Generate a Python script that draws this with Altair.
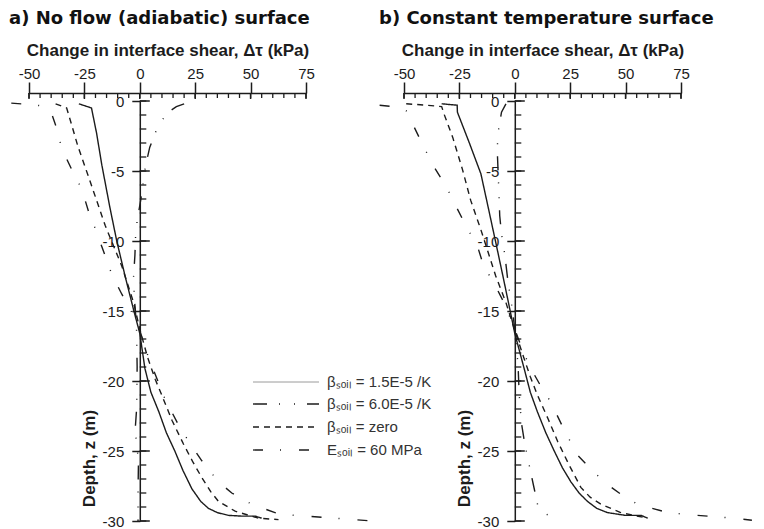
import altair as alt
import pandas as pd

# ---------------- data ----------------
SERIES = ["b15", "b60", "zero", "esoil"]
LEGEND_LABELS = ["βₛₒᵢₗ = 1.5E-5 /K", "βₛₒᵢₗ = 6.0E-5 /K", "βₛₒᵢₗ = zero", "Eₛₒᵢₗ = 60 MPa"]
PANEL_TITLES = ["a) No flow (adiabatic) surface", "b) Constant temperature surface"]
X_TITLE = "Change in interface shear, Δτ (kPa)"
Y_TITLE = "Depth, z (m)"
X_TICKS = [-50, -25, 0, 25, 50, 75]
X_MINOR = list(range(-50, 76, 5))
Y_TICKS = [0, -5, -10, -15, -20, -25, -30]
Y_MINOR = list(range(0, -31, -1))

# Panel a: no flow (adiabatic) surface
A_B15_X = [-27.5, -21.8, -19.5, -17.1, -13.5, -10.4, -6.5, -2.5, 0, 2.3, 5, 8.6, 12, 15.8, 19.5, 23.5, 27.5, 31, 35, 40, 46, 52, 55]
A_B15_Z = [-0.2, -0.5, -2.3, -4.6, -7.6, -10, -12.6, -15.1, -16.6, -19.1, -20.8, -22.2, -23.7, -25.0, -26.4, -27.7, -28.6, -29.1, -29.4, -29.6, -29.65, -29.65, -29.8]
A_B60_X = [20, 16.5, 12, 7.7, 4.5, 2.5, 0.5, -0.8, -1.8, -2.2, -2.8, -2.5, -1.5, -1.2, -1.4, -2.1, -0.6, -0.8, -0.8]
A_B60_Z = [-0.2, -0.4, -0.9, -2, -3.3, -4.7, -7, -8.2, -9.2, -11, -12.5, -14, -16, -19, -21.9, -23.5, -25.7, -28, -30]
A_ZERO_X = [-38, -33, -31.5, -28, -22.4, -15.6, -8.1, -2.8, 0, 3.5, 7, 9.9, 14.5, 19.7, 24, 28, 32, 35.5, 43, 53.6, 62.6]
A_ZERO_Z = [-0.2, -0.5, -1.3, -3.2, -5.75, -8.9, -11.8, -14.4, -16.3, -18.3, -19.9, -21, -22.8, -24.5, -25.8, -26.9, -27.9, -28.6, -29.3, -29.8, -29.9]
A_ES_X = [-58, -50, -44, -40, -37.6, -35.2, -30.7, -26.2, -23.2, -19.4, -12.6, -8.1, -3.6, 0, 3.9, 11.4, 17, 22, 28, 35.5, 41.5, 50.5, 61, 70, 88, 104.7]
A_ES_Z = [-0.15, -0.25, -0.35, -0.8, -1.9, -3.4, -4.9, -6.3, -7.85, -9.4, -12.4, -13.8, -15.1, -16.4, -18.3, -21.3, -23, -24.3, -25.7, -27.2, -28, -28.8, -29.4, -29.6, -29.8, -30]

# Panel b: constant temperature surface
B_B15_X = [-33, -26, -25.9, -20.5, -15.3, -12, -8.6, -5.5, -2.6, 0, 4.2, 7, 10.2, 14, 17.8, 21.5, 25.3, 29, 32.8, 37, 41.8, 50, 57, 60]
B_B15_Z = [-0.2, -0.3, -0.8, -3, -5.2, -7.6, -10.1, -12.4, -14.6, -16.6, -19.1, -20.8, -22.2, -23.7, -25, -26.2, -27.2, -28, -28.6, -29.1, -29.4, -29.6, -29.6, -29.8]
B_B60_X = [-4, -6, -7.8, -7.8, -7.3, -6.8, -6, -4.5, -3, -1, 0.5, 1.5, 2, 3, 4.5, 6.5, 8.5, 10.5, 14, 17]
B_B60_Z = [-0.2, -0.8, -2.5, -4, -6, -8.2, -9.5, -11, -13, -15, -17, -19, -21, -23, -24.5, -26, -27.5, -29, -29.5, -29.7]
B_ZERO_X = [-49, -40, -33, -32, -28, -23.6, -19.9, -15.3, -8.6, -4, 0, 4, 7, 10.2, 15, 19.3, 24.5, 29.8, 34, 38.8, 47.8, 59.9]
B_ZERO_Z = [-0.2, -0.3, -0.4, -0.9, -2.6, -4.9, -7.1, -9.2, -12.5, -14.4, -16.4, -18.3, -19.7, -21, -22.7, -24.3, -26, -27.6, -28.3, -28.8, -29.4, -29.8]
B_ES_X = [-61, -55, -49, -45.6, -41, -36.5, -31, -26.6, -22.1, -16.8, -14, -9.4, -4.9, 0, 3.5, 7.2, 11.5, 16.2, 22, 28.3, 35, 41.8, 48, 55.4, 68.9, 82.4, 99, 107]
B_ES_Z = [-0.3, -0.4, -0.7, -1.8, -3.3, -4.7, -6.1, -7.5, -8.9, -10.4, -11.8, -13, -14.4, -16.3, -17.8, -19.1, -20.3, -21.5, -23.4, -25.3, -26.4, -27.4, -28.1, -28.8, -29.4, -29.6, -29.8, -29.95]

PANELS = [
    {"b15": (A_B15_X, A_B15_Z), "b60": (A_B60_X, A_B60_Z), "zero": (A_ZERO_X, A_ZERO_Z), "esoil": (A_ES_X, A_ES_Z)},
    {"b15": (B_B15_X, B_B15_Z), "b60": (B_B60_X, B_B60_Z), "zero": (B_ZERO_X, B_ZERO_Z), "esoil": (B_ES_X, B_ES_Z)},
]

# ---------------- styles ----------------
INK = "#1c1c1c"
FONT = "Liberation Sans"
TITLE_FONT = "DejaVu Sans"
DASHES = {"b15": [1, 0], "b60": [14, 12, 1, 14, 1, 12], "zero": [6, 5], "esoil": [10, 17, 1, 18]}
LEG_STROKE = {"b15": ("#9a9a9a", 1.0), "b60": (INK, 1.4), "zero": (INK, 1.3), "esoil": (INK, 1.3)}
W, H = 277, 420
XDOM, YDOM = [-50, 75], [-30, 0]
Y_AXIS_SHIFT = W * (0 - XDOM[0]) / (XDOM[1] - XDOM[0])
LEG_X0, LEG_X1, LEG_TX = 224, 290, 298
LEG_ROWS = [281, 303, 326, 349]
TITLE_DX = [-20, -25]
LABEL_EXPR = "'' + datum.value"


def to_frame(panel):
    rows = []
    for s, (xs, zs) in panel.items():
        for i, (x, z) in enumerate(zip(xs, zs)):
            rows.append({"series": s, "shear": x, "depth": z, "i": i})
    return pd.DataFrame(rows)


def make_panel(k):
    df = to_frame(PANELS[k])
    xs = alt.Scale(domain=XDOM, nice=False, zero=False)
    ys = alt.Scale(domain=YDOM, nice=False, zero=False)
    x_axis = alt.Axis(
        orient="top", values=X_TICKS, title=X_TITLE, offset=8, grid=False,
        tickSize=11, tickWidth=1.5, tickColor=INK, domainWidth=1.5, domainColor=INK,
        labelFont=FONT, labelFontSize=15, labelColor=INK, labelPadding=1, labelFlush=False,
        labelOverlap=False, labelExpr=LABEL_EXPR, titleFont=FONT, titleFontSize=17,
        titleFontWeight="bold", titleColor=INK, titlePadding=7,
    )
    y_axis = alt.Axis(
        orient="left", values=Y_TICKS, title=Y_TITLE, offset=-Y_AXIS_SHIFT, grid=False,
        tickSize=8, tickWidth=1.5, tickColor=INK, domainWidth=1.5, domainColor=INK,
        labelFont=FONT, labelFontSize=15, labelColor=INK, labelPadding=8, labelFlush=False,
        labelOverlap=False, labelExpr=LABEL_EXPR, titleFont=FONT, titleFontSize=17,
        titleFontWeight="bold", titleColor=INK, titleX=-50, titleY=357, titleAngle=270,
        titleAlign="center", titleBaseline="middle",
    )
    X = lambda: alt.X("shear:Q", scale=xs, axis=x_axis)
    Y = lambda: alt.Y("depth:Q", scale=ys, axis=y_axis)

    lines = alt.Chart(df).mark_line(color=INK, strokeWidth=1.4).encode(
        x=X(), y=Y(),
        strokeDash=alt.StrokeDash("series:N", scale=alt.Scale(domain=SERIES, range=[DASHES[s] for s in SERIES]), legend=None),
        order=alt.Order("i:Q"),
    )
    xminor_df = pd.DataFrame({"shear": X_MINOR, "depth": [0] * len(X_MINOR)})
    xmajor_df = pd.DataFrame({"shear": X_TICKS, "depth": [0] * len(X_TICKS)})
    yminor_df = pd.DataFrame({"depth": Y_MINOR, "shear": [0] * len(Y_MINOR)})
    ymajor_df = pd.DataFrame({"depth": Y_TICKS, "shear": [0] * len(Y_TICKS)})

    xt = alt.Chart(xminor_df).mark_rule(color=INK, strokeWidth=1.3, yOffset=-8, y2Offset=-3).encode(
        x=X(), y=Y(), y2="depth:Q")
    xt_major = alt.Chart(xmajor_df).mark_rule(color=INK, strokeWidth=1.5, yOffset=-8, y2Offset=-2).encode(
        x=X(), y=Y(), y2="depth:Q")
    yt = alt.Chart(yminor_df).mark_rule(color=INK, strokeWidth=1.3, x2Offset=6.5).encode(
        y=Y(), x=X(), x2="shear:Q")
    yt_major = alt.Chart(ymajor_df).mark_rule(color=INK, strokeWidth=1.5, x2Offset=10).encode(
        y=Y(), x=X(), x2="shear:Q")

    layers = [lines, xt, xt_major, yt, yt_major]
    if k == 0:
        for s, lab, yy in zip(SERIES, LEGEND_LABELS, LEG_ROWS):
            col, sw = LEG_STROKE[s]
            one = pd.DataFrame({"label": [lab]})
            layers.append(alt.Chart(one).mark_rule(color=col, strokeWidth=sw, strokeDash=DASHES[s]).encode(
                x=alt.value(LEG_X0), x2=alt.value(LEG_X1), y=alt.value(yy)))
            layers.append(alt.Chart(one).mark_text(align="left", baseline="middle", font=FONT, fontSize=15, color="#333").encode(
                x=alt.value(LEG_TX), y=alt.value(yy), text="label:N"))
    return alt.layer(*layers).properties(
        width=W, height=H,
        title=alt.TitleParams(
            PANEL_TITLES[k], anchor="start", frame="group", dx=TITLE_DX[k], offset=-1,
            baseline="alphabetic", font=TITLE_FONT, fontSize=18, fontWeight="bold", color="#111",
        ),
    )


chart = alt.hconcat(make_panel(0), make_panel(1), spacing=98, bounds="flush").properties(
    padding={"left": 0, "top": 2, "right": 0, "bottom": 0}
).configure_view(stroke=None)

chart.save("out.html", embed_options={"renderer": "svg", "actions": False})
